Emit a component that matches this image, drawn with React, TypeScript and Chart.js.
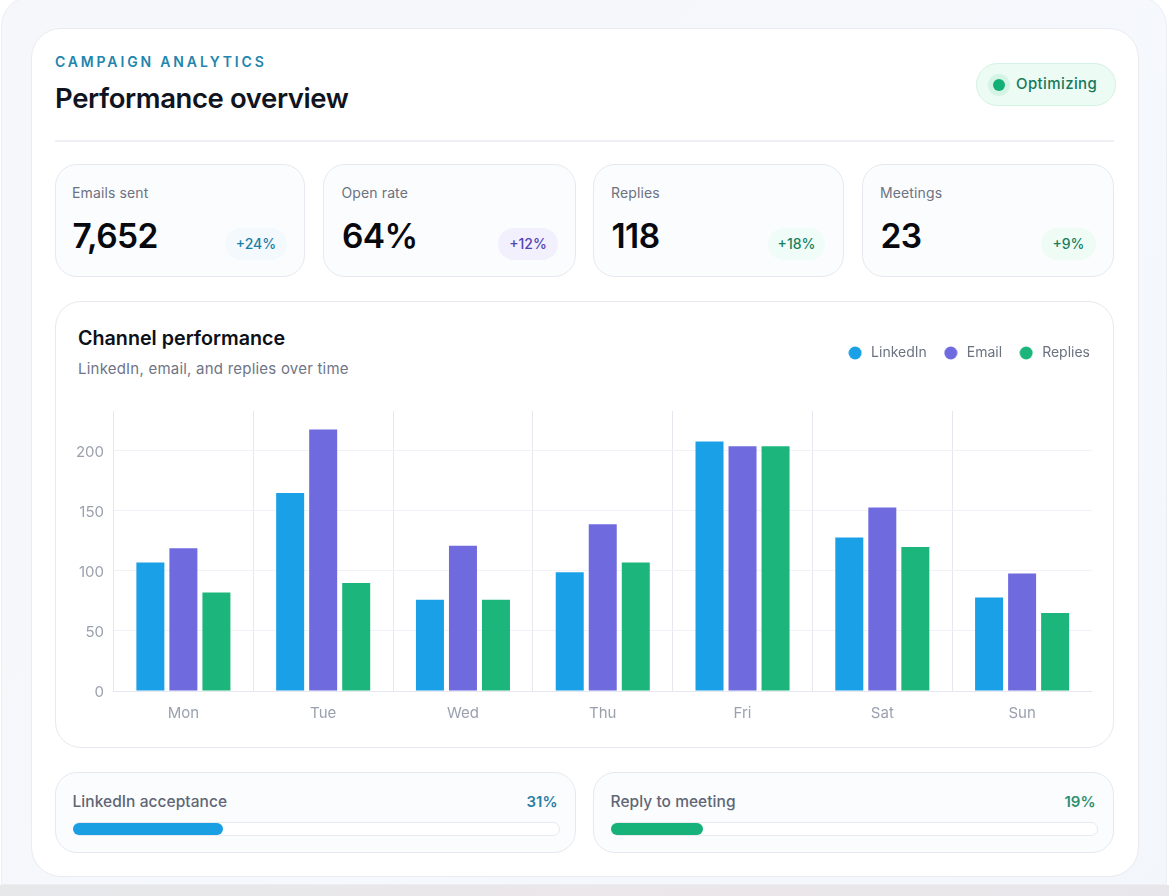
import React, { useEffect, useRef } from "react";
import { Chart, registerables } from "chart.js";

Chart.register(...registerables);

const days = ["Mon", "Tue", "Wed", "Thu", "Fri", "Sat", "Sun"];
const linkedin = [107, 165, 76, 99, 208, 128, 78];
const email = [119, 218, 121, 139, 204, 153, 98];
const replies = [82, 90, 76, 107, 204, 120, 65];
const yTicks = [0, 50, 100, 150, 200];
const seriesColors = ["#1aa0e6", "#6f6bde", "#1cb67c"];

const kpiLabels = ["Emails sent", "Open rate", "Replies", "Meetings"];
const kpiValues = ["7,652", "64%", "118", "23"];
const kpiDeltas = ["+24%", "+12%", "+18%", "+9%"];
const progressLabels = ["LinkedIn acceptance", "Reply to meeting"];
const progressValues = [31, 19];

const FONT = "Inter, 'Noto Sans', sans-serif";
const kpiBoxes = [
  { left: 55, width: 250, tx: 72, bl: 225, bw: 62, bg: "#f3f9fd", fg: "#1a7fa6" },
  { left: 323, width: 253, tx: 341.5, bl: 498, bw: 60, bg: "#f1f0fc", fg: "#5343b5" },
  { left: 593, width: 251, tx: 611, bl: 768, bw: 57, bg: "#f0fcf7", fg: "#17805f" },
  { left: 862, width: 252, tx: 880, bl: 1041, bw: 55, bg: "#effcf5", fg: "#17805f" },
];
const progressBoxes = [
  { left: 55, width: 521, fill: "#1a9fe3", fg: "#2a7fa8" },
  { left: 593, width: 521, fill: "#16b27a", fg: "#2f9070" },
];

const abs = (left: number, top: number, width: number, height: number, extra: React.CSSProperties = {}): React.CSSProperties => ({
  position: "absolute", left, top, width, height, boxSizing: "border-box", ...extra,
});
const txt = (left: number, cy: number, size: number, weight: number, color: string, extra: React.CSSProperties = {}): React.CSSProperties => ({
  position: "absolute", left, top: cy - 15, height: 30, lineHeight: "30px", fontSize: size, fontWeight: weight, color, whiteSpace: "nowrap", ...extra,
});

const makeDot = (color: string) => {
  const c = document.createElement("canvas");
  c.width = 14;
  c.height = 14;
  const g = c.getContext("2d")!;
  g.fillStyle = color;
  g.beginPath();
  g.arc(7, 7, 6.5, 0, Math.PI * 2);
  g.fill();
  return c;
};

const legendPlacement = {
  id: "legendPlacement",
  beforeInit(chart: any) {
    const fit = chart.legend.fit;
    chart.legend.fit = function () {
      fit.call(this);
      this.height = 80;
    };
  },
  afterLayout(chart: any) {
    chart.legend.right += 13;
  },
};

export default function App() {
  const ref = useRef<HTMLCanvasElement>(null);
  useEffect(() => {
    document.body.style.margin = "0";
    document.body.style.background = "#ffffff";
    const dots = seriesColors.map(makeDot);
    const chart = new Chart(ref.current!, {
      type: "bar",
      data: {
        labels: days,
        datasets: [
          { label: "LinkedIn", data: linkedin, backgroundColor: seriesColors[0] },
          { label: "Email", data: email, backgroundColor: seriesColors[1] },
          { label: "Replies", data: replies, backgroundColor: seriesColors[2] },
        ],
      },
      options: {
        animation: false,
        responsive: false,
        devicePixelRatio: 1,
        datasets: { bar: { categoryPercentage: 0.7087, barPercentage: 0.848 } },
        plugins: {
          tooltip: { enabled: false },
          legend: {
            position: "top",
            align: "end",
            labels: {
              usePointStyle: true,
              pointStyleWidth: 18,
              boxHeight: 13,
              padding: 15,
              color: "#6b7280",
              font: { family: FONT, size: 14 },
              generateLabels: (c: any) =>
                Chart.defaults.plugins.legend.labels.generateLabels(c).map((item: any, i: number) => ({ ...item, pointStyle: dots[i] })),
            },
          },
        },
        scales: {
          x: {
            grid: { color: "#e6e8f0", drawTicks: false, offset: true },
            border: { color: "#e6e8ef" },
            ticks: { color: "#9aa0ae", padding: 13, font: { family: FONT, size: 15 } },
            afterFit: (s: any) => { s.height = 49; },
          },
          y: {
            min: 0,
            max: 233.33,
            grid: { color: (c: any) => (c.tick && c.tick.value === 0 ? "rgba(0,0,0,0)" : "#f1f2f7"), drawTicks: false },
            border: { color: "#e6e8ef" },
            ticks: { color: "#9aa0ae", padding: 9.5, labelOffset: 1, font: { family: FONT, size: 15 } },
            afterBuildTicks: (s: any) => { s.ticks = yTicks.map((value) => ({ value })); },
            afterFit: (s: any) => { s.width = 58.5; },
          },
        },
      },
      plugins: [legendPlacement],
    } as any);
    return () => chart.destroy();
  }, []);

  return (
    <div style={{ position: "relative", width: 1169, height: 896, overflow: "hidden", fontFamily: FONT, background: "linear-gradient(90deg,#e6e8ea,#ebe7ea 50%,#e8e6ea)" }}>
      <div style={abs(0, 0, 1169, 885, { background: "#ffffff" })} />
      <div style={abs(1, -4, 1166, 889, { background: "linear-gradient(135deg,#f6f7fb,#f5f8fc 60%,#f3f6fb)", borderRadius: "30px 30px 0 0", border: "1px solid #eceef4" })} />
      <div style={abs(31, 28, 1108, 849, { background: "#fff", borderRadius: 30, border: "1.5px solid #e9ebf1" })} />

      <div style={txt(55, 61.5, 14, 600, "#2385ad", { letterSpacing: 2.85 })}>CAMPAIGN ANALYTICS</div>
      <div style={txt(55, 98, 27.5, 600, "#0f1420", { letterSpacing: -0.4 })}>Performance overview</div>

      <div style={abs(976, 63, 140, 43, { background: "#ecfbf4", border: "1.5px solid #d3f3e4", borderRadius: 22 })} />
      <div style={abs(988, 74, 22, 22, { background: "#d5f4e5", borderRadius: 11 })} />
      <div style={abs(993, 79, 12, 12, { background: "#12b076", borderRadius: 6 })} />
      <div style={txt(1016, 84, 15, 500, "#15795a", { letterSpacing: 0.4 })}>Optimizing</div>

      <div style={abs(55, 139.5, 1059, 2, { background: "#eff0f5" })} />

      {kpiBoxes.map((b, i) => (
        <React.Fragment key={kpiLabels[i]}>
          <div style={abs(b.left, 164, b.width, 113, { background: "#fbfcfe", border: "1.5px solid #e7e9f0", borderRadius: 22 })} />
          <div style={txt(b.tx, 193, 14, 400, "#6b7280", { letterSpacing: 0.12 })}>{kpiLabels[i]}</div>
          <div style={txt(b.tx + 0.5, 236, 33.5, 600, "#07090f", { letterSpacing: -0.6 })}>{kpiValues[i]}</div>
          <div style={abs(b.bl, 228, b.bw, 32, { background: b.bg, borderRadius: 16 })} />
          <div style={{ ...txt(b.bl, 243.5, 14, 500, b.fg), width: b.bw, textAlign: "center" }}>{kpiDeltas[i]}</div>
        </React.Fragment>
      ))}

      <div style={abs(55, 301, 1059, 447, { background: "#fff", border: "1.5px solid #e7e9f0", borderRadius: 26 })} />
      <div style={txt(78, 338, 19.7, 600, "#0c1018")}>Channel performance</div>
      <div style={txt(78, 369, 15, 400, "#6f7585", { letterSpacing: 0.22 })}>LinkedIn, email, and replies over time</div>
      <canvas ref={ref} width={1037} height={409} style={{ position: "absolute", left: 55, top: 331, width: 1037, height: 409 }} />

      {progressBoxes.map((b, i) => (
        <React.Fragment key={progressLabels[i]}>
          <div style={abs(b.left, 772, b.width, 81, { background: "#fbfcfe", border: "1.5px solid #e7e9f0", borderRadius: 22 })} />
          <div style={txt(b.left + 17.5, 802, 15.5, 500, "#5f6675", { letterSpacing: 0.05 })}>{progressLabels[i]}</div>
          <div style={{ ...txt(b.left + 17.5, 802, 15, 600, b.fg), width: 485, textAlign: "right" }}>{progressValues[i]}%</div>
          <div style={abs(b.left + 17.5, 822, 487, 14, { background: "#fff", border: "1.5px solid #e8eaf0", borderRadius: 7 })} />
          <div style={abs(b.left + 17.5, 823, 487 * progressValues[i] / 100, 12, { background: b.fill, borderRadius: 6 })} />
        </React.Fragment>
      ))}
    </div>
  );
}
